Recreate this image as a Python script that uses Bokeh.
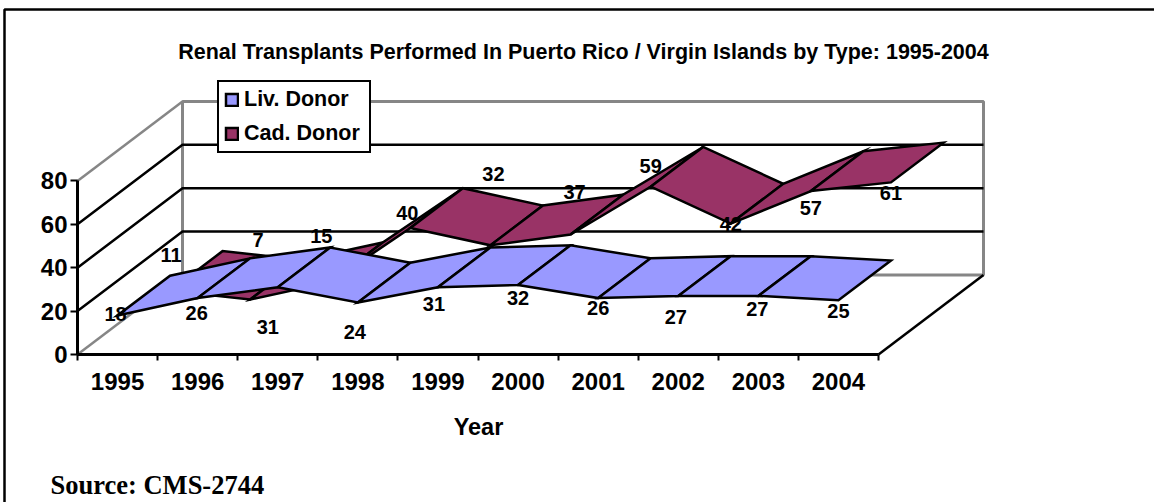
from bokeh.embed import file_html
from bokeh.models import FixedTicker, Label, Legend, LegendItem, Range1d
from bokeh.plotting import figure
from bokeh.resources import INLINE

# Annual renal transplant counts by donor type
years = ["1995", "1996", "1997", "1998", "1999", "2000", "2001", "2002", "2003", "2004"]
living_donor = [18, 26, 31, 24, 31, 32, 26, 27, 27, 25]
cadaver_donor = [11, 7, 15, 40, 32, 37, 59, 42, 57, 61]
value_ticks = [0, 20, 40, 60, 80]

# Hand placement of the value labels relative to each ribbon's front edge (px)
living_label_offsets = [(-2, -1), (-1, 15), (-10, 40), (-3, 30), (-4, 17),
                        (0, 13), (0, 10), (-2.5, 21), (-1, 13), (0, 11)]
cadaver_label_offsets = [(1, -36), (8, -60), (-9, -46), (-3, -15), (3, -71),
                         (4, -42), (0, -21), (0, 0), (0, 17), (0, 11)]

WIDTH, HEIGHT = 1154, 502
ORIGIN_X, ORIGIN_Y = 77, 354  # where the value axis meets the year axis
PX_PER_YEAR, PX_PER_UNIT = 80.1, 2.17
DEPTH_X, DEPTH_Y = 105 / PX_PER_YEAR, 79.5 / PX_PER_UNIT  # oblique projection of the depth axis

SANS = "Liberation Sans"
SERIF = "Liberation Serif"


def project(pos, val, depth):
    """Oblique projection of (category position, value, depth 0..1) onto the plot plane."""
    return pos + DEPTH_X * depth, val + DEPTH_Y * depth


def ribbon(values, d0, d1):
    """One parallelogram per pair of neighbouring years."""
    xs, ys = [], []
    for i in range(len(values) - 1):
        corners = [project(i + 0.5, values[i], d0),
                   project(i + 1.5, values[i + 1], d0),
                   project(i + 1.5, values[i + 1], d1),
                   project(i + 0.5, values[i], d1)]
        xs.append([c[0] for c in corners])
        ys.append([c[1] for c in corners])
    return xs, ys


def px_x(px):
    return (px - ORIGIN_X) / PX_PER_YEAR


def px_y(py):
    return (ORIGIN_Y - py) / PX_PER_UNIT


p = figure(width=WIDTH, height=HEIGHT, output_backend="svg", toolbar_location=None,
           x_range=Range1d(px_x(0), px_x(WIDTH)),
           y_range=Range1d(px_y(HEIGHT), px_y(0)),
           min_border=0, x_axis_location="below", y_axis_location="left")
p.outline_line_color = None
p.grid.visible = False
p.background_fill_color = "white"

# Axes pinned to the front edge of the floor; year labels sit between ticks
n = len(years)
p.xaxis.fixed_location = 0
p.yaxis.fixed_location = 0
p.xaxis.ticker = FixedTicker(ticks=[i + 0.5 for i in range(n)], minor_ticks=list(range(n + 1)))
p.xaxis.major_label_overrides = {i + 0.5: y for i, y in enumerate(years)}
p.xaxis.bounds = (0, n)
p.xaxis.major_tick_line_color = None
p.xaxis.minor_tick_in = 0
p.xaxis.minor_tick_out = 6
p.xaxis.minor_tick_line_width = 2
p.xaxis.major_label_standoff = 12
p.yaxis.ticker = FixedTicker(ticks=value_ticks)
p.yaxis.bounds = (0, 80)
p.yaxis.major_tick_in = 0
p.yaxis.major_tick_out = 7
p.yaxis.major_tick_line_width = 2
p.yaxis.minor_tick_line_color = None
p.yaxis.major_label_standoff = 3
for ax in (p.xaxis, p.yaxis):
    ax.axis_line_color = "black"
    ax.axis_line_width = 3
    ax.major_label_text_font = SANS
    ax.major_label_text_font_style = "bold"
    ax.major_label_text_font_size = "24px"
    ax.major_label_text_color = "black"

# Back wall and floor outline
wall_color = "#868686"
corners = [project(0, 0, 0), project(0, 0, 1), project(0, 80, 1), project(0, 80, 0)]
p.line([corners[0][0], corners[1][0]], [corners[0][1], corners[1][1]], line_color=wall_color, line_width=2.5)
p.line([corners[2][0], corners[3][0]], [corners[2][1], corners[3][1]], line_color=wall_color, line_width=2.5)
wall = [project(0, 0, 1), project(0, 80, 1), project(n, 80, 1), project(n, 0, 1)]
p.patch([c[0] for c in wall], [c[1] for c in wall], fill_color=None, line_color=wall_color, line_width=3)
floor_edge = [project(n, 0, 0), project(n, 0, 1)]
p.line([c[0] for c in floor_edge], [c[1] for c in floor_edge], line_color="black", line_width=2.5)

# Gridlines wrapping around the side and back walls
for v in value_ticks[1:-1]:
    path = [project(0, v, 0), project(0, v, 1), project(n, v, 1)]
    p.line([c[0] for c in path], [c[1] for c in path], line_color="black", line_width=2.5)

# Ribbons, rear series first so the nearer one covers it
cad_xs, cad_ys = ribbon(cadaver_donor, 0.5, 1.0)
liv_xs, liv_ys = ribbon(living_donor, 0.0, 0.5)
cad_r = p.patches(cad_xs, cad_ys, fill_color="#993366", line_color="black", line_width=2.5, line_join="miter")
liv_r = p.patches(liv_xs, liv_ys, fill_color="#9999FF", line_color="black", line_width=2.5, line_join="miter")

# Value labels
for vals, depth, offsets in ((living_donor, 0.0, living_label_offsets),
                             (cadaver_donor, 0.5, cadaver_label_offsets)):
    for i, (v, (dx, dy)) in enumerate(zip(vals, offsets)):
        x, y = project(i + 0.5, v, depth)
        p.add_layout(Label(x=x, y=y, x_offset=dx, y_offset=-dy, text=str(v), text_font=SANS,
                           text_font_size="20px", text_font_style="bold", text_align="center",
                           text_baseline="middle", text_color="black"))

# Legend
legend = Legend(items=[LegendItem(label="Liv. Donor", renderers=[liv_r]),
                       LegendItem(label="Cad. Donor", renderers=[cad_r])],
                location=(217, 349), orientation="vertical", margin=0, padding=5, spacing=9,
                glyph_width=15, glyph_height=15, label_standoff=5, label_width=120,
                label_text_font=SANS, label_text_font_style="bold", label_text_font_size="21.5px",
                label_text_color="black", border_line_color="black", border_line_width=2.5,
                border_line_alpha=1.0, background_fill_color="white", background_fill_alpha=1.0)
p.add_layout(legend)

# Chart title, axis title and source note
p.add_layout(Label(x=px_x(583), y=px_y(51), text="Renal Transplants Performed In Puerto Rico / Virgin Islands by Type: 1995-2004",
                   text_font=SANS, text_font_style="bold", text_font_size="21.5px",
                   text_align="center", text_baseline="middle", text_color="black"))
p.add_layout(Label(x=px_x(478), y=px_y(426), text="Year", text_font=SANS, text_font_style="bold",
                   text_font_size="23.5px", text_align="center", text_baseline="middle", text_color="black"))
p.add_layout(Label(x=px_x(50), y=px_y(484), text="Source: CMS-2744", text_font=SERIF, text_font_style="bold",
                   text_font_size="26.5px", text_align="left", text_baseline="middle", text_color="black"))

# Exhibit frame along the left and top of the page
p.line([px_x(4), px_x(4), px_x(WIDTH)], [px_y(HEIGHT), px_y(9), px_y(9)], line_color="black", line_width=2.5)

open("out.html", "w").write(file_html(p, INLINE))
